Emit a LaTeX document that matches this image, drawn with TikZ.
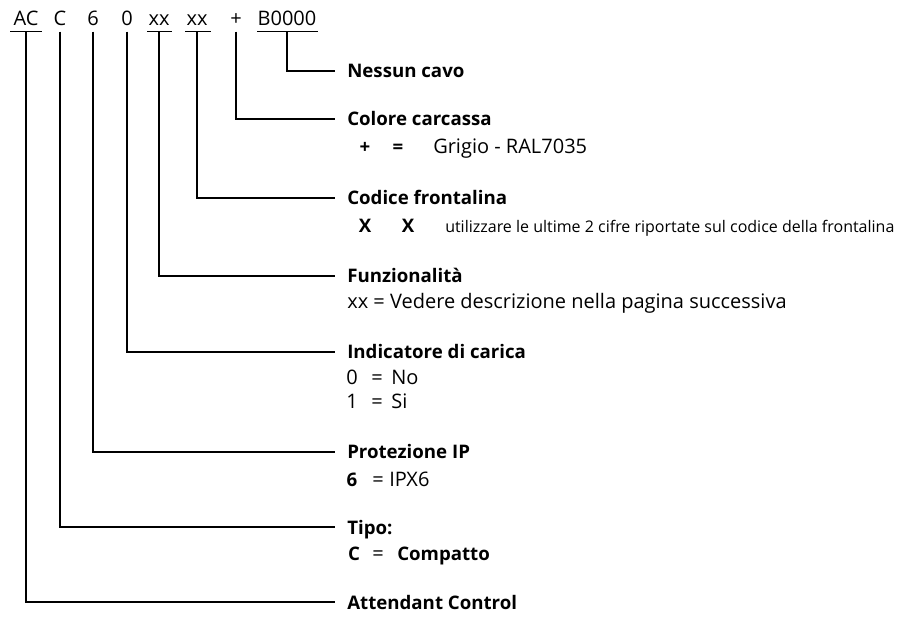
\documentclass[tikz,border=0pt]{standalone}
\usepackage{fontspec}
\setmainfont{Open Sans}
\begin{document}
\begin{tikzpicture}[x=0.75pt,y=-0.75pt,
  wire/.style={line width=0.9pt, black},
  codetxt/.style={font=\fontsize{15}{17}\selectfont, anchor=base, inner sep=0pt},
  hd/.style={font=\bfseries\fontsize{14}{16}\selectfont, anchor=base west, inner sep=0pt},
  ds/.style={font=\fontsize{15}{17}\selectfont, anchor=base west, inner sep=0pt},
  dsc/.style={font=\fontsize{15}{17}\selectfont, anchor=base, inner sep=0pt},
  dbc/.style={font=\bfseries\fontsize{14}{16}\selectfont, anchor=base, inner sep=0pt},
  small/.style={font=\fontsize{12}{14}\selectfont, anchor=base west, inner sep=0pt}]
\useasboundingbox (0,0) rectangle (907,619);

% code line
\node[codetxt] (kAC) at (26,25) {AC};
\node[codetxt] (kC) at (60,25) {C};
\node[codetxt] (k6) at (93,25) {6};
\node[codetxt] (k0) at (127,25) {0};
\node[codetxt] (kx1) at (159,25) {xx};
\node[codetxt] (kx2) at (197,25) {xx};
\node[codetxt] (kp) at (236,25) {+};
\node[codetxt] (kB) at (287,25) {B0000};

% underlines
\draw[wire] (10,31.5) -- (42,31.5);
\draw[wire] (147,31.5) -- (172,31.5);
\draw[wire] (185,31.5) -- (211,31.5);
\draw[wire] (257,31.5) -- (318,31.5);

% stem tops
\coordinate (tAC) at (26,31.5);
\coordinate (tC) at (60,31.5);
\coordinate (t6) at (93,31.5);
\coordinate (t0) at (127,31.5);
\coordinate (tx1) at (159,31.5);
\coordinate (tx2) at (197,31.5);
\coordinate (tp) at (236,31.5);
\coordinate (tB) at (287,31.5);

% branch ends
\coordinate (eNes) at (335,71);
\coordinate (eCol) at (335,119);
\coordinate (eCod) at (335,198);
\coordinate (eFun) at (335,276);
\coordinate (eInd) at (335,352);
\coordinate (ePro) at (335,452);
\coordinate (eTip) at (335,527);
\coordinate (eAtt) at (335,602);

\draw[wire] (tB) |- (eNes);
\draw[wire] (tp) |- (eCol);
\draw[wire] (tx2) |- (eCod);
\draw[wire] (tx1) |- (eFun);
\draw[wire] (t0) |- (eInd);
\draw[wire] (t6) |- (ePro);
\draw[wire] (tC) |- (eTip);
\draw[wire] (tAC) |- (eAtt);

% headings
\node[hd] (hNes) at (347,77) {Nessun cavo};
\node[hd] (hCol) at (347,125.5) {Colore carcassa};
\node[hd] (hCod) at (347,204) {Codice frontalina};
\node[hd] (hFun) at (347,282) {Funzionalità};
\node[hd] (hInd) at (347,358) {Indicatore di carica};
\node[hd] (hPro) at (347,458) {Protezione IP};
\node[hd] (hTip) at (347,534) {Tipo:};
\node[hd] (hAtt) at (347,609) {Attendant Control};

% descriptions
\node[dbc] (cPlus) at (365,153) {+};
\node[dbc] (cEq) at (398,153) {=};
\node[ds] (cGri) at (433,153) {Grigio - RAL7035};

\node[dbc] (dX1) at (365,232) {X};
\node[dbc] (dX2) at (408,232) {X};
\node[small] (dUti) at (445,232) {utilizzare le ultime 2 cifre riportate sul codice della frontalina};

\node[ds] (fXX) at (347,308) {xx = Vedere descrizione nella pagina successiva};

\node[dsc] (i0) at (352,384) {0};
\node[dsc] (i0e) at (377,384) {=};
\node[ds] (i0t) at (391,384) {No};
\node[dsc] (i1) at (352,408) {1};
\node[dsc] (i1e) at (377,408) {=};
\node[ds] (i1t) at (391,408) {Si};

\node[dbc] (p6) at (352,486) {6};
\node[dsc] (p6e) at (378,486) {=};
\node[ds] (p6t) at (389,486) {IPX6};

\node[dbc] (tCc) at (354,560) {C};
\node[dsc] (tCe) at (378,560) {=};
\node[hd] (tCt) at (397,560) {Compatto};
\end{tikzpicture}
\end{document}
